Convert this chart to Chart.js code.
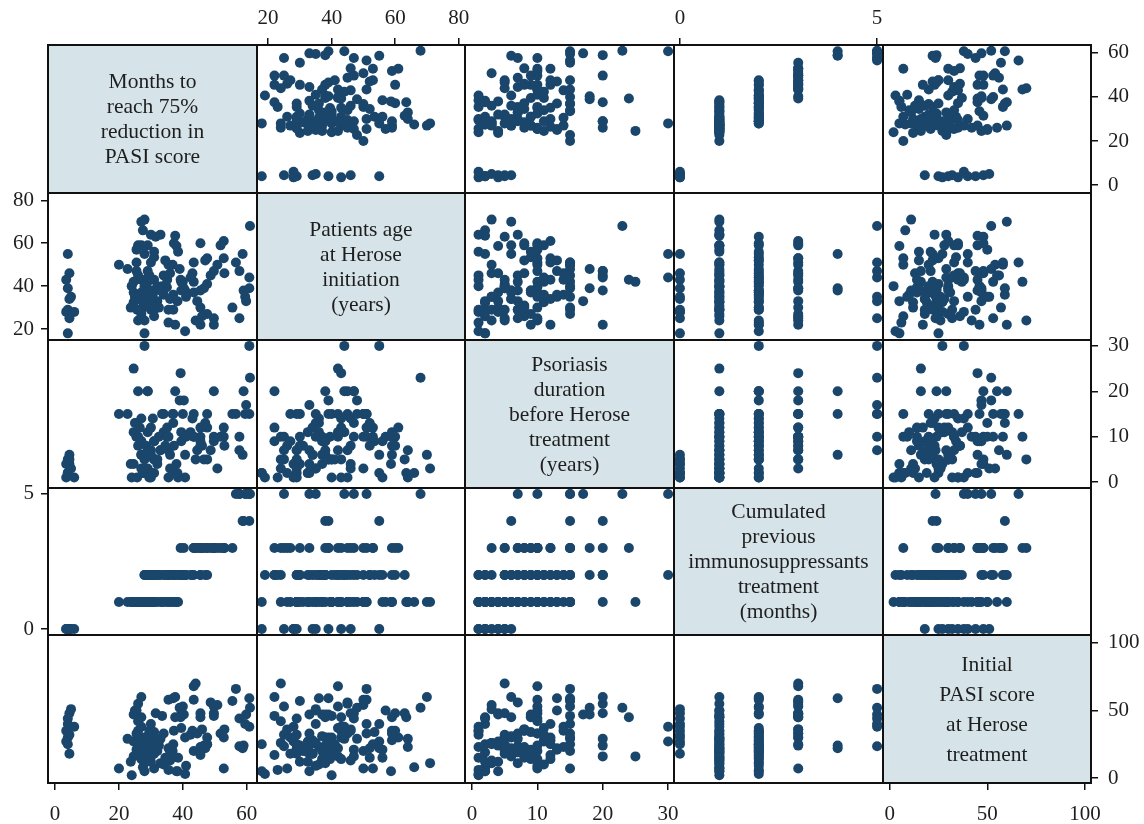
<!DOCTYPE html>
<html>
<head>
<meta charset="utf-8">
<script src="https://cdn.jsdelivr.net/npm/chart.js@4"></script>
<style>
  body { margin: 0; background: #fff; }
  #board { position: relative; width: 1144px; height: 824px; }
  .cell { position: absolute; }
  .label {
    position: absolute; display: flex; align-items: center; justify-content: center;
    text-align: center; font-family: "Liberation Serif", "DejaVu Serif", serif;
    font-size: 21.5px; line-height: 25px; color: #1e1e1e; pointer-events: none;
  }
</style>
</head>
<body>
<div id="board"></div>
<script>
// ---- data: one entry per patient ----
const months = [
  4, 4.5, 3.5, 4, 5, 4.5, 4, 3.5, 6, 4.5, 4,
  20, 28, 27, 27.5, 30, 33, 26, 27, 25.5, 30, 25.5, 25.5, 26, 24.6, 27, 31, 24.6, 27, 24.6, 27.5,
  23.7, 25.7, 27, 31, 26, 28, 36.8, 37.6, 35, 35.5, 24, 29, 28, 26.5, 30, 32, 28.5, 29.5, 33.5, 34,
  27, 22.7, 25, 36, 31, 38.5, 38, 29,
  31.5, 29, 31, 29, 29, 29, 30.6, 30, 30, 28, 35.5, 37.2, 35.1, 37, 37, 35.5, 37.6, 43, 40.7, 43.4,
  45.5, 45.5, 47.6, 47, 40.7, 39.5, 40, 39.5, 28, 32, 33, 34, 32.5, 36, 38.3, 39, 34.5, 31, 41, 42.4,
  49.7, 49.7, 49.7, 50.8, 52.8, 52.8, 53, 55.5, 39.3, 40.3, 43.4, 45.5, 43.4, 44.5, 45.5, 46.6, 47.6, 47.6, 48.7, 51.8,
  46, 44,
  60.8, 59, 58.7,
  56.6, 57.7, 57.7, 59.8, 60.8, 61, 59.5
];
const age = [
  55, 46, 43, 39, 35, 34, 29, 28, 28, 25, 18,
  50, 71, 70, 66, 64, 64, 59, 59, 57, 51, 51, 47, 45, 42, 43, 43, 37, 37, 32.5, 32.5,
  30, 29, 29, 29, 24, 18, 50, 63.5, 39.5, 29, 40, 35, 40, 34, 38, 33, 31, 45, 40, 36,
  27, 48, 35, 46, 26, 56, 58.7, 42,
  63, 59, 53.5, 47, 44, 37, 36, 32.5, 29, 24, 50, 60, 43, 36, 29, 23, 22, 46, 38, 37,
  30, 22, 41, 52, 19, 42, 42, 38, 55, 40, 38, 45, 30, 34, 33, 48, 52, 56, 35, 44,
  25, 22, 47, 50, 61, 53, 46, 30, 43, 39, 51, 60, 42, 33, 38, 39, 27, 53, 45, 59,
  26, 24,
  39, 38, 55,
  51, 47, 25, 33, 44, 68, 35
];
const duration = [
  2, 4, 1, 5, 3, 6, 2, 4, 1, 5, 2,
  15, 3, 6, 2, 1, 7, 8, 6, 10, 12, 10, 13, 20, 25, 14, 5, 4, 9, 11, 2,
  4, 1, 3, 5, 10, 2, 15, 2, 10, 7, 1, 3, 5, 12, 6, 4, 8, 1, 15, 11,
  9, 15, 13, 3, 2, 1, 4, 7,
  5, 11, 9, 20, 20, 6, 14, 2, 7, 3, 10, 8, 12, 13, 15, 1, 20, 14, 6, 10,
  8, 12, 5, 13, 1, 11, 15, 9, 30, 5, 7, 15, 10, 6, 2, 18, 8, 9, 10, 11,
  10, 9, 20, 3, 12, 10, 8, 15, 24, 18, 15, 10, 10, 7, 9, 5, 15, 12, 7, 10,
  8, 5,
  15, 20, 6,
  15, 10, 7, 17, 30, 23, 15
];
const immuno = [
  0, 0, 0, 0, 0, 0, 0, 0, 0, 0, 0,
  1, 1, 1, 1, 1, 1, 1, 1, 1, 1, 1, 1, 1, 1, 1, 1, 1, 1, 1, 1,
  1, 1, 1, 1, 1, 1, 1, 1, 1, 1, 1, 1, 1, 1, 1, 1, 1, 1, 1, 1,
  1, 1, 1, 1, 1, 1, 1, 1,
  2, 2, 2, 2, 2, 2, 2, 2, 2, 2, 2, 2, 2, 2, 2, 2, 2, 2, 2, 2,
  2, 2, 2, 2, 2, 2, 2, 2, 2, 2, 2, 2, 2, 2, 2, 2, 2, 2, 2, 2,
  3, 3, 3, 3, 3, 3, 3, 3, 3, 3, 3, 3, 3, 3, 3, 3, 3, 3, 3, 3,
  3, 3,
  4, 4, 4,
  5, 5, 5, 5, 5, 5, 5
];
const pasi = [
  40, 48, 35, 30, 51, 18, 44, 27, 38, 32, 25,
  7, 11, 60, 8, 23, 29, 35, 45, 50, 40, 33, 21, 55, 16, 38, 30, 47, 14, 27, 19,
  12, 32, 25, 18, 42, 5, 20, 45, 14, 22, 2, 26, 30, 28, 16, 24, 20, 35, 46, 10,
  18, 29, 50, 13, 7, 15, 5, 22,
  48, 28, 34, 16, 29, 31, 23, 12, 19, 26, 58, 35, 14, 59, 25, 6, 60, 35, 30, 20,
  23, 17, 25, 22, 3, 37, 53, 47, 27, 20, 11, 33, 24, 18, 5, 52, 15, 21, 9, 32,
  53, 46, 48, 54, 30, 7, 36, 57, 45, 47, 58, 48, 68, 33, 45, 24, 30, 25, 56, 33,
  36, 70,
  59, 24, 22,
  66, 44, 23.5, 47, 38, 52, 40
];

// variable names (diagonal) and tick labels
const varNames = [
  ["Months to", "reach 75%", "reduction in", "PASI score"],
  ["Patients age", "at Herose", "initiation", "(years)"],
  ["Psoriasis", "duration", "before Herose", "treatment", "(years)"],
  ["Cumulated", "previous", "immunosuppressants", "treatment", "(months)"],
  ["Initial", "PASI score", "at Herose", "treatment"]
];
const monthTicks = [0, 20, 40, 60];
const ageTicks = [20, 40, 60, 80];
const durationTicks = [0, 10, 20, 30];
const immunoTicks = [0, 5];
const pasiTicks = [0, 50, 100];

const vars = [months, age, duration, immuno, pasi];
const ticks = [monthTicks, ageTicks, durationTicks, immunoTicks, pasiTicks];
// axis extents, horizontal and vertical use slightly different margins
const xRanges = [[-2.2, 63.2], [16.5, 82], [-1.07, 30.9], [-0.15, 5.15], [-3.4, 103.1]];
const yRanges = [[-3.6, 63.6], [14.9, 83.4], [-1.3, 31.3], [-0.22, 5.22], [-3.7, 105.9]];

// ---- layout ----
const xEdges = [48, 257, 465, 674, 883, 1091];
const yEdges = [45, 193, 340, 488, 635, 783];
const PAD = 50;
const DOT = "#1b466c";
const DIAG = "#d6e4ea";
const FONT = { family: "'Liberation Serif', 'DejaVu Serif', serif", size: 21 };

const framePlugin = {
  id: "frame",
  beforeDraw(chart, args, opts) {
    if (!opts.diag) return;
    const a = chart.chartArea, ctx = chart.ctx;
    ctx.save();
    ctx.fillStyle = DIAG;
    ctx.fillRect(a.left, a.top, a.width, a.height);
    ctx.restore();
  },
  afterDraw(chart) {
    const a = chart.chartArea, ctx = chart.ctx;
    ctx.save();
    ctx.strokeStyle = "#111";
    ctx.lineWidth = 2;
    ctx.strokeRect(a.left, a.top, a.width, a.height);
    ctx.restore();
  }
};

const board = document.getElementById("board");

function makeCell(r, c) {
  const w = xEdges[c + 1] - xEdges[c];
  const h = yEdges[r + 1] - yEdges[r];
  const canvas = document.createElement("canvas");
  canvas.className = "cell";
  canvas.width = w + 2 * PAD;
  canvas.height = h + 2 * PAD;
  canvas.style.left = (xEdges[c] - PAD) + "px";
  canvas.style.top = (yEdges[r] - PAD) + "px";
  canvas.style.width = canvas.width + "px";
  canvas.style.height = canvas.height + "px";
  board.appendChild(canvas);

  // which edges carry tick labels
  const xShow = (r === 0 && c % 2 === 1) || (r === 4 && c % 2 === 0);
  const yShow = (c === 0 && r % 2 === 1) || (c === 4 && r % 2 === 0);
  const xPos = r === 0 ? "top" : "bottom";
  const yPos = c === 4 ? "right" : "left";

  const points = r === c ? [] : vars[c].map((v, i) => ({ x: v, y: vars[r][i] }));

  new Chart(canvas, {
    type: "scatter",
    data: {
      datasets: [{
        data: points,
        backgroundColor: DOT,
        borderWidth: 0,
        pointRadius: 5,
        pointHoverRadius: 5
      }]
    },
    options: {
      responsive: false,
      animation: false,
      events: [],
      layout: {
        padding: {
          top: xPos === "bottom" ? PAD : 0,
          bottom: xPos === "top" ? PAD : 0,
          left: yPos === "right" ? PAD : 0,
          right: yPos === "left" ? PAD : 0
        }
      },
      plugins: { legend: { display: false }, tooltip: { enabled: false }, frame: { diag: r === c } },
      scales: {
        x: {
          type: "linear", position: xPos,
          min: xRanges[c][0], max: xRanges[c][1],
          afterFit(s) { s.height = PAD; },
          afterBuildTicks(s) { s.ticks = ticks[c].map(v => ({ value: v })); },
          grid: { display: xShow, drawOnChartArea: false, tickLength: 7, color: "#111", lineWidth: 1.5 },
          border: { display: false },
          ticks: { display: xShow, font: FONT, color: "#1e1e1e", padding: xPos === "top" ? 7 : 12, maxRotation: 0 }
        },
        y: {
          type: "linear", position: yPos,
          min: yRanges[r][0], max: yRanges[r][1],
          afterFit(s) { s.width = PAD; },
          afterBuildTicks(s) { s.ticks = ticks[r].map(v => ({ value: v })); },
          grid: { display: yShow, drawOnChartArea: false, tickLength: 7, color: "#111", lineWidth: 1.5 },
          border: { display: false },
          ticks: { display: yShow, font: FONT, color: "#1e1e1e", padding: yPos === "right" ? 10 : 7 }
        }
      }
    },
    plugins: [framePlugin]
  });

  if (r === c) {
    const lab = document.createElement("div");
    lab.className = "label";
    lab.style.left = xEdges[c] + "px";
    lab.style.top = yEdges[r] + "px";
    lab.style.width = w + "px";
    lab.style.height = h + "px";
    if (r === 4) lab.style.lineHeight = "30px";
    lab.innerHTML = varNames[r].join("<br>");
    board.appendChild(lab);
  }
}

for (let r = 0; r < 5; r++) {
  for (let c = 0; c < 5; c++) makeCell(r, c);
}
</script>
</body>
</html>
